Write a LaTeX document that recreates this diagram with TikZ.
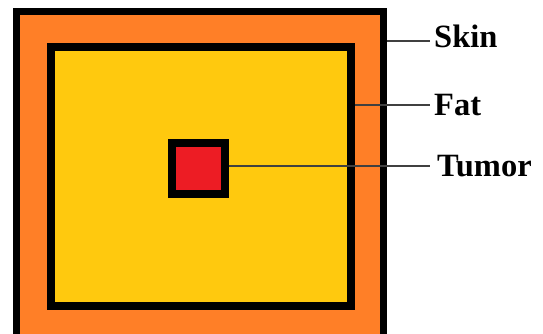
\documentclass[tikz,border=0pt]{standalone}
\usepackage{fontspec}
\setmainfont{Liberation Serif}
\definecolor{skinorange}{HTML}{FF7F27}
\definecolor{fatyellow}{HTML}{FFC90E}
\definecolor{tumorred}{HTML}{ED1C24}
\begin{document}
\begin{tikzpicture}[x=1pt,y=-1pt,
  layer/.style={draw=black,line width=7.5pt},
  leader/.style={draw=black!75,line width=1.2pt},
  lbl/.style={font=\fontsize{32.5}{36}\selectfont\bfseries,inner sep=0pt,anchor=base west}]
\useasboundingbox (0,0) rectangle (543,334);
\begin{scope}
\clip (0,0) rectangle (543,334);
\path[layer,fill=skinorange] (16.5,11.5) rectangle (383.5,345);
\end{scope}
\path[layer,fill=fatyellow,line width=8pt] (51,47) rectangle (351,306);
\path[layer,fill=tumorred,line width=8pt] (172,143) rectangle (225,194);
\coordinate (skinpt) at (387,41);
\coordinate (fatpt) at (355,105);
\coordinate (tumorpt) at (229,166);
\node[lbl] (skin) at (434,48) {Skin};
\node[lbl] (fat) at (434,116) {Fat};
\node[lbl] (tumor) at (437,176) {Tumor};
\draw[leader] (skinpt) -- ([xshift=-4pt]skinpt -| skin.west);
\draw[leader] (fatpt) -- ([xshift=-4pt]fatpt -| fat.west);
\draw[leader] (tumorpt) -- ([xshift=-7pt]tumorpt -| tumor.west);
\end{tikzpicture}
\end{document}
